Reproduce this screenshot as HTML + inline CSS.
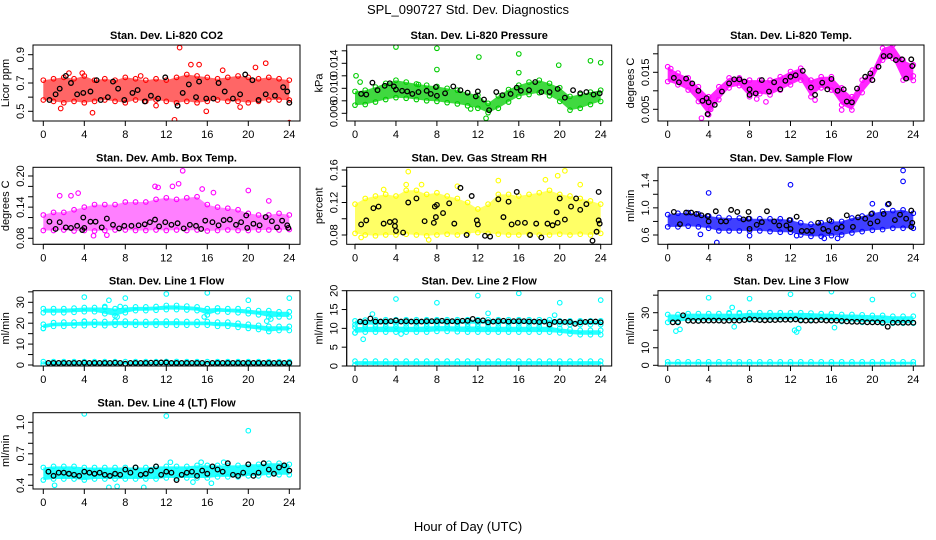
<!DOCTYPE html>
<html><head><meta charset="utf-8"><style>
html,body{margin:0;padding:0;background:#fff;}
svg{display:block;font-family:"Liberation Sans",Arial,sans-serif;}
</style></head><body>
<svg id="chart" width="936" height="540" viewBox="0 0 936 540" xmlns="http://www.w3.org/2000/svg">
<rect width="936" height="540" fill="#fff"/>
<text x="468" y="14" font-size="13" text-anchor="middle">SPL_090727  Std. Dev. Diagnostics</text>
<text x="468" y="531" font-size="13" text-anchor="middle">Hour of Day (UTC)</text>
</svg>
<script>
const hours=[0,1,2,3,4,5,6,7,8,9,10,11,12,13,14,15,16,17,18,19,20,21,22,23,24];
const halfHours=[0.5,1,1.5,2,2.5,3,3.5,4,4.5,5,5.5,6,6.5,7,7.5,8,8.5,9,9.5,10,10.5,11,11.5,12,12.5,13,13.5,14,14.5,15,15.5,16,16.5,17,17.5,18,18.5,19,19.5,20,20.5,21,21.5,22,22.5,23,23.5,24];
const xTicks=[0,4,8,12,16,20,24];

const co2Lo=[0.58,0.57,0.56,0.57,0.56,0.57,0.58,0.57,0.56,0.58,0.57,0.58,0.57,0.56,0.57,0.56,0.57,0.58,0.57,0.57,0.56,0.57,0.58,0.58,0.58];
const co2Hi=[0.72,0.73,0.74,0.73,0.75,0.72,0.73,0.72,0.74,0.73,0.72,0.73,0.72,0.74,0.76,0.75,0.74,0.73,0.74,0.75,0.74,0.73,0.74,0.73,0.72];
const co2OutX=[13.3,12.8,24.0,14.4,15.2,21.7,3.8,1.7,4.8,15.9,20.7,11.0,17.5,9.5,2.5,19.2];
const co2OutY=[0.95,0.44,0.42,0.83,0.83,0.84,0.77,0.52,0.49,0.50,0.81,0.54,0.79,0.75,0.77,0.53];
const co2BlkX=[0.6,1.2,1.6,2.2,2.7,3.3,3.9,4.6,5.2,5.6,6.3,6.8,7.3,7.9,8.7,9.2,9.9,10.5,11.2,11.9,13.1,13.6,14.2,14.9,15.2,15.9,16.6,17.1,17.7,18.5,19.2,19.7,20.4,21.0,21.7,22.6,23.4,23.8,24.0];
const co2BlkY=[0.58,0.62,0.66,0.75,0.70,0.62,0.63,0.64,0.72,0.58,0.60,0.71,0.66,0.58,0.63,0.65,0.57,0.61,0.59,0.74,0.54,0.63,0.69,0.60,0.71,0.59,0.59,0.70,0.64,0.59,0.62,0.76,0.72,0.58,0.62,0.61,0.67,0.64,0.56];

const presLo=[0.0073,0.0074,0.0078,0.0082,0.0085,0.0084,0.0082,0.0080,0.0079,0.0077,0.0075,0.0072,0.0068,0.0061,0.0068,0.0078,0.0087,0.0090,0.0093,0.0088,0.0079,0.0065,0.0068,0.0074,0.0079];
const presHi=[0.0095,0.0097,0.0102,0.0108,0.0113,0.0110,0.0107,0.0105,0.0103,0.0100,0.0097,0.0093,0.0089,0.0076,0.0088,0.0098,0.0105,0.0110,0.0113,0.0108,0.0101,0.0087,0.0090,0.0094,0.0097];
const presOutX=[4.0,8.0,8.0,12.1,16.0,19.9,23.0,24.0,0.1,12.8,11.3,16.0,6.2,0.5];
const presOutY=[0.0166,0.0164,0.0130,0.0150,0.0155,0.0137,0.0144,0.0141,0.0120,0.0052,0.0067,0.0125,0.0106,0.0110];
const presBlkX=[0.6,1.1,1.7,2.2,2.9,3.4,3.8,4.0,4.6,5.1,5.6,6.2,7.0,7.4,7.9,8.0,8.8,9.6,10.3,11.0,11.8,12.0,12.6,13.1,13.8,14.4,15.2,15.8,16.2,17.0,17.6,18.2,19.0,19.8,20.5,21.3,22.0,22.6,23.3,23.9];
const presBlkY=[0.0091,0.0090,0.0109,0.0097,0.0104,0.0108,0.0103,0.0098,0.0096,0.0095,0.0091,0.0094,0.0096,0.0091,0.0102,0.0088,0.0092,0.0103,0.0097,0.0093,0.0087,0.0095,0.0082,0.0065,0.0094,0.0089,0.0091,0.0101,0.0096,0.0097,0.0110,0.0094,0.0094,0.0099,0.0085,0.0097,0.0092,0.0094,0.0090,0.0092];

const tempHi=[0.0165,0.0148,0.0135,0.0111,0.0084,0.0111,0.0135,0.0135,0.0129,0.0129,0.0129,0.0138,0.0152,0.0161,0.0129,0.0138,0.0138,0.0108,0.0084,0.0129,0.0156,0.0215,0.0224,0.0183,0.0170];
const tempLo=[0.0125,0.0116,0.0102,0.0071,0.0035,0.0076,0.0108,0.0114,0.0084,0.0092,0.0089,0.0102,0.0116,0.0129,0.0084,0.0108,0.0102,0.0062,0.0048,0.0095,0.0129,0.0183,0.0188,0.0129,0.0128];
const tempOutX=[3.3,8.7,9.6,4.2,17.0,14.4,24.0,0.3];
const tempOutY=[0.0026,0.0078,0.0070,0.0050,0.0048,0.0075,0.0140,0.0160];
const tempBlkX=[0.6,1.1,1.8,2.4,3.0,3.4,3.8,3.9,4.0,4.6,5.3,6.0,6.5,7.0,7.5,8.0,8.0,8.6,9.2,9.9,10.4,11.0,11.5,12.0,12.5,13.2,14.0,14.4,15.1,15.6,16.0,16.6,17.2,17.5,18.0,18.5,19.3,19.8,20.0,20.6,21.1,21.7,22.3,22.9,23.3,23.8,23.9];
const tempBlkY=[0.0135,0.0123,0.0133,0.0120,0.0100,0.0073,0.0080,0.0037,0.0069,0.0062,0.0098,0.0120,0.0131,0.0131,0.0125,0.0104,0.0089,0.0093,0.0129,0.0098,0.0123,0.0104,0.0127,0.0138,0.0142,0.0154,0.0109,0.0089,0.0122,0.0104,0.0132,0.0100,0.0104,0.0071,0.0069,0.0106,0.0138,0.0147,0.0129,0.0165,0.0194,0.0194,0.0183,0.0185,0.0133,0.0185,0.0167];

const ambLo=[0.095,0.095,0.096,0.094,0.095,0.094,0.095,0.096,0.096,0.095,0.095,0.096,0.095,0.096,0.095,0.096,0.094,0.095,0.096,0.095,0.095,0.096,0.096,0.096,0.097];
const ambHi=[0.125,0.130,0.130,0.135,0.140,0.145,0.145,0.145,0.150,0.150,0.150,0.155,0.158,0.155,0.158,0.160,0.145,0.140,0.138,0.135,0.128,0.125,0.125,0.128,0.125];
const ambOutX=[13.6,10.9,12.6,13.2,15.5,4.9,6.2,1.6,3.4,20.0,22.0,11.2,16.6,2.7];
const ambOutY=[0.210,0.180,0.180,0.185,0.175,0.085,0.086,0.162,0.167,0.172,0.152,0.178,0.168,0.162];
const ambBlkX=[0.6,1.2,1.6,2.2,2.7,3.3,3.8,3.9,4.0,4.6,5.1,5.7,6.2,6.8,7.4,7.9,8.6,9.3,9.9,10.4,10.9,11.3,11.9,12.5,13.1,13.7,14.3,14.9,15.4,15.8,16.5,17.1,17.6,18.2,18.8,19.3,19.8,19.9,20.5,21.1,21.7,22.3,22.8,23.3,23.8,23.9];
const ambBlkY=[0.112,0.098,0.111,0.101,0.100,0.104,0.096,0.120,0.100,0.112,0.112,0.101,0.118,0.106,0.099,0.104,0.104,0.105,0.107,0.111,0.116,0.103,0.111,0.106,0.109,0.099,0.106,0.104,0.098,0.114,0.111,0.105,0.115,0.116,0.106,0.111,0.124,0.100,0.108,0.105,0.121,0.113,0.101,0.114,0.105,0.100];

const rhLo=[0.082,0.080,0.079,0.080,0.080,0.081,0.080,0.079,0.080,0.081,0.080,0.082,0.083,0.082,0.081,0.080,0.080,0.081,0.080,0.080,0.081,0.080,0.081,0.080,0.082];
const rhHi=[0.118,0.125,0.128,0.130,0.128,0.135,0.135,0.130,0.132,0.128,0.125,0.120,0.112,0.118,0.130,0.130,0.128,0.130,0.132,0.135,0.130,0.128,0.125,0.122,0.118];
const rhOutX=[5.2,20.5,19.8,7.2,0.6,14.0,18.6,5.0,6.5,10.0,2.8,22.0];
const rhOutY=[0.158,0.159,0.153,0.074,0.077,0.147,0.148,0.142,0.142,0.140,0.136,0.142];
const rhBlkX=[0.6,1.1,1.8,2.3,2.8,3.4,3.9,3.9,4.0,4.7,5.2,6.0,6.8,7.7,7.8,8.0,7.9,8.6,9.2,9.7,10.3,10.9,11.4,11.9,12.0,12.7,13.2,14.0,14.5,15.0,15.3,15.8,15.9,16.6,17.1,17.7,18.2,18.8,19.3,19.7,19.8,20.0,20.5,21.1,21.6,22.0,22.6,23.2,23.6,23.8,23.9,23.8];
const rhBlkY=[0.093,0.098,0.113,0.115,0.094,0.096,0.097,0.091,0.085,0.083,0.120,0.125,0.097,0.095,0.115,0.117,0.102,0.107,0.119,0.094,0.138,0.080,0.128,0.098,0.093,0.079,0.078,0.124,0.102,0.121,0.093,0.133,0.095,0.095,0.080,0.094,0.077,0.094,0.092,0.108,0.095,0.125,0.099,0.115,0.125,0.111,0.118,0.073,0.084,0.098,0.094,0.133];

const flowLo=[0.72,0.72,0.73,0.72,0.70,0.66,0.66,0.66,0.66,0.66,0.65,0.64,0.64,0.60,0.58,0.58,0.59,0.60,0.63,0.65,0.67,0.68,0.70,0.70,0.70];
const flowHi=[0.90,0.92,0.93,0.91,0.88,0.86,0.85,0.85,0.84,0.84,0.84,0.84,0.82,0.78,0.76,0.78,0.80,0.80,0.85,0.88,0.92,0.95,0.96,0.97,0.92];
const flowOutX=[4.0,12.0,23.0,23.0,4.8,3.2,20.0,21.5,8.0,12.6,15.3,16.6];
const flowOutY=[1.22,1.34,1.55,1.39,0.49,0.61,1.06,1.05,0.59,0.59,0.55,0.55];
const flowBlkX=[0.6,1.2,1.8,2.3,2.8,3.3,3.9,4.0,4.7,5.2,5.7,6.2,6.8,7.4,7.9,7.9,8.0,8.7,9.2,9.7,10.4,10.9,11.6,11.9,12.0,12.6,13.1,13.6,14.1,14.7,15.2,15.7,15.8,16.5,17.0,17.5,18.1,18.6,19.3,19.8,19.9,20.5,21.1,21.6,22.2,22.7,23.3,23.8,23.9,23.8];
const flowBlkY=[0.94,0.76,0.93,0.93,0.91,0.89,0.88,0.80,0.95,0.80,0.80,0.97,0.94,0.83,0.94,0.84,0.69,0.75,0.79,0.95,0.80,0.74,0.74,0.82,0.69,0.87,0.66,0.66,0.66,0.78,0.69,0.66,0.82,0.70,0.72,0.89,0.72,0.86,0.84,0.77,0.91,0.80,0.91,1.06,0.82,0.90,0.84,0.96,0.78,0.72];

const l1ALo=[25.0,25.0,25.0,25.2,25.5,25.5,24.5,23.5,25.0,26.0,26.0,26.2,26.5,26.5,26.3,26.0,24.0,25.5,25.3,25.0,24.5,24.0,23.0,23.0,23.0];
const l1AHi=[27.0,27.0,27.0,27.2,27.5,27.5,27.5,27.0,27.5,27.8,27.8,28.0,28.5,28.5,28.2,27.8,27.0,27.3,27.0,27.0,26.5,26.0,26.0,25.5,25.5];
const l1BLo=[17.5,18.5,18.5,18.8,18.8,19.0,18.8,19.0,19.0,19.0,19.0,19.0,19.0,19.0,19.0,19.0,19.0,18.5,18.5,18.0,17.5,17.0,16.0,16.5,16.5];
const l1BHi=[19.5,20.3,20.5,20.5,20.8,20.8,20.8,21.0,21.0,20.8,20.8,21.0,21.0,21.0,20.8,20.8,20.8,20.5,20.5,20.0,19.5,19.0,18.5,18.5,18.5];
const l1CLo=[0.4,0.4,0.4,0.4,0.4,0.4,0.4,0.4,0.4,0.4,0.4,0.4,0.4,0.4,0.4,0.4,0.4,0.4,0.4,0.4,0.4,0.4,0.4,0.4,0.4];
const l1CHi=[1.6,1.6,1.6,1.6,1.6,1.6,1.6,1.6,1.6,1.6,1.6,1.6,1.7,1.7,1.6,1.6,1.6,1.6,1.6,1.6,1.6,1.6,1.6,1.6,1.6];
const l1OutX=[4,6.4,8,12,16,20,24,0,7.2,15.7,21.8,22.2,4,6.0,7.5];
const l1OutY=[32.5,31,32,34,34.5,31,32,17.5,23,23,21,22,21,28,28];
const l1BlkY=[1.0,1.0,1.0,1.0,1.0,1.0,1.0,1.1,1.0,1.0,1.0,1.0,1.0,1.1,1.0,0.6,1.0,1.0,1.0,1.0,1.1,1.1,1.2,1.2,1.0,1.0,1.0,1.0,1.0,1.0,1.0,0.6,1.0,1.0,1.0,1.0,1.0,1.0,1.0,1.0,1.0,1.0,1.0,1.0,1.0,1.0,1.0,1.0];

const l2ALo=[8.8,9.0,9.0,9.0,9.0,9.0,9.0,9.0,9.2,9.2,9.1,9.0,9.0,9.0,9.0,9.0,9.0,9.0,9.0,9.0,8.8,8.5,8.3,8.3,8.3];
const l2AHi=[10.3,10.4,10.4,10.5,10.5,10.4,10.4,10.5,10.6,10.6,10.5,10.5,10.5,10.4,10.4,10.4,10.4,10.4,10.4,10.4,10.0,9.7,9.5,9.5,9.5];
const l2BLo=[11.0,11.0,11.0,11.2,11.2,11.2,11.2,11.2,11.2,11.2,11.2,11.2,11.2,11.2,11.2,11.2,11.2,11.2,11.2,11.2,11.0,11.0,11.0,11.0,11.0];
const l2BHi=[12.0,12.2,12.3,12.3,12.3,12.3,12.3,12.3,12.3,12.3,12.3,12.3,12.3,12.3,12.3,12.3,12.3,12.3,12.3,12.3,12.0,12.0,12.0,12.0,12.0];
const l2CLo=[0.3,0.3,0.3,0.3,0.3,0.3,0.3,0.3,0.3,0.3,0.3,0.3,0.3,0.3,0.3,0.3,0.3,0.3,0.3,0.3,0.3,0.3,0.3,0.3,0.3];
const l2CHi=[1.3,1.3,1.3,1.3,1.3,1.3,1.3,1.3,1.3,1.3,1.3,1.3,1.3,1.3,1.3,1.3,1.3,1.3,1.3,1.3,1.3,1.3,1.3,1.3,1.3];
const l2OutX=[4,8,12,16,20,24,0.8,1.7,13,19.5,4.5,0];
const l2OutY=[17.8,16.8,18.7,19.3,16.8,17.5,7.1,13.8,14,13.5,8.5,8.8];
const l2BlkY=[11.8,11.6,12.6,11.8,11.8,11.8,11.9,12.1,11.8,11.9,11.8,11.8,11.8,11.9,11.9,11.9,12.0,11.8,11.9,11.8,12.0,12.0,12.5,12.0,12.1,11.6,11.8,11.9,12.0,11.8,11.9,11.9,11.9,11.8,11.8,11.7,11.8,11.0,11.7,11.8,11.7,11.7,11.2,11.6,11.7,11.8,11.8,11.6];

const l3ALo=[24.5,25.0,25.5,25.5,25.5,25.5,25.5,25.5,26.0,26.0,26.0,26.0,26.0,26.0,26.0,25.8,25.5,25.0,25.0,24.5,24.5,24.0,24.0,24.0,24.0];
const l3AHi=[29.0,29.0,29.5,29.5,29.5,29.5,29.5,29.5,30.0,30.0,30.0,30.0,30.0,30.0,29.8,29.5,29.5,29.0,29.0,28.8,28.5,28.5,28.0,28.0,28.0];
const l3CLo=[0.5,0.5,0.5,0.5,0.5,0.5,0.5,0.5,0.5,0.5,0.5,0.5,0.5,0.5,0.5,0.5,0.5,0.5,0.5,0.5,0.5,0.5,0.5,0.5,0.5];
const l3CHi=[2.0,2.0,2.0,2.0,2.0,2.0,2.0,2.0,2.0,2.0,2.0,2.0,2.0,2.0,2.0,2.0,2.0,2.0,2.0,2.0,2.0,2.0,2.0,2.0,2.0];
const l3OutX=[4,8,12,16,20,24,6.3,6.0,7.0,0.8,1.2,12.4,12.6,12.8,16.3,6.5];
const l3OutY=[38.5,38,40.5,42,37.5,40,33,30,30,19.5,20.5,20,19,21,21.5,22];
const l3BlkY=[24.5,24.5,28.5,25.5,25.3,25.3,25.5,25.5,25.5,25.5,25.3,25.5,25.5,25.5,25.8,26.3,26.0,25.8,25.7,25.8,25.8,26.0,26.0,26.0,26.2,25.6,25.5,25.5,25.5,25.8,25.5,25.5,25.5,25.3,25.0,24.8,24.8,24.8,24.5,24.5,24.5,24.3,22.0,24.3,24.3,24.3,24.3,24.3];

const l4Lo=[0.45,0.46,0.46,0.46,0.45,0.46,0.46,0.46,0.46,0.46,0.46,0.46,0.47,0.47,0.47,0.47,0.47,0.48,0.48,0.48,0.49,0.49,0.50,0.50,0.50];
const l4Hi=[0.57,0.58,0.58,0.58,0.57,0.57,0.57,0.57,0.57,0.57,0.57,0.58,0.58,0.58,0.58,0.59,0.59,0.59,0.59,0.59,0.60,0.60,0.61,0.61,0.60];
const l4OutX=[4,12,20,6.4,7.2,9.8,1.1,12.4,15.4,17.6,16.4,14.6];
const l4OutY=[1.08,1.06,0.92,0.38,0.39,0.38,0.40,0.62,0.62,0.62,0.42,0.43];
const l4BlkY=[0.53,0.49,0.52,0.52,0.51,0.50,0.49,0.53,0.52,0.51,0.52,0.50,0.49,0.51,0.50,0.55,0.52,0.57,0.50,0.51,0.54,0.58,0.50,0.53,0.52,0.45,0.50,0.52,0.53,0.49,0.54,0.51,0.58,0.55,0.53,0.61,0.50,0.49,0.52,0.60,0.49,0.52,0.61,0.55,0.51,0.57,0.59,0.54];

const NS='http://www.w3.org/2000/svg';
const svg=document.getElementById('chart');
function mk(tag,attrs,parent){const e=document.createElementNS(NS,tag);for(const k in attrs)e.setAttribute(k,attrs[k]);(parent||svg).appendChild(e);return e;}

const cols=[{L:33,R:300,x0:43.3,x24:289.3},{L:346.7,R:611.7,x0:355,x24:600.7},{L:658,R:924,x0:667.7,x24:913.3}];
const rows=[{T:45,B:121},{T:167.3,B:244.3},{T:290.7,B:366},{T:412.7,B:489}];

const panels=[
 {id:'co2',title:'Stan. Dev. Li-820 CO2',ylab:'Licor ppm',c:0,r:0,color:'#ff0000',v1:0.5,p1:111.3,v2:0.9,p2:54.7,ticks:[0.5,0.6,0.7,0.8,0.9],labels:[0.5,0.7,0.9],dec:1,bands:[[co2Lo,co2Hi,0.6]],ox:co2OutX,oy:co2OutY,bx:co2BlkX,by:co2BlkY},
 {id:'pressure',title:'Stan. Dev. Li-820 Pressure',ylab:'kPa',c:1,r:0,color:'#00cc00',v1:0.006,p1:113.3,v2:0.014,p2:63.3,ticks:[0.006,0.008,0.010,0.012,0.014,0.016],labels:[0.006,0.010,0.014],dec:3,bands:[[presLo,presHi,0.75]],ox:presOutX,oy:presOutY,bx:presBlkX,by:presBlkY},
 {id:'temp',title:'Stan. Dev. Li-820 Temp.',ylab:'degrees C',c:2,r:0,color:'#ff00ff',v1:0.005,p1:109.3,v2:0.015,p2:72.3,ticks:[0.005,0.010,0.015,0.020],labels:[0.005,0.015],dec:3,bands:[[tempLo,tempHi,0.85]],ox:tempOutX,oy:tempOutY,bx:tempBlkX,by:tempBlkY},
 {id:'ambbox',title:'Stan. Dev. Amb. Box Temp.',ylab:'degrees C',c:0,r:1,color:'#ff00ff',v1:0.08,p1:238.3,v2:0.20,p2:176,ticks:[0.08,0.10,0.12,0.14,0.16,0.18,0.20],labels:[0.08,0.14,0.20],dec:2,bands:[[ambLo,ambHi,0.5]],ox:ambOutX,oy:ambOutY,bx:ambBlkX,by:ambBlkY},
 {id:'rh',title:'Stan. Dev. Gas Stream RH',ylab:'percent',c:1,r:1,color:'#ffff00',v1:0.08,p1:235,v2:0.16,p2:170,ticks:[0.08,0.10,0.12,0.14,0.16],labels:[0.08,0.12,0.16],dec:2,bands:[[rhLo,rhHi,0.6]],ox:rhOutX,oy:rhOutY,bx:rhBlkX,by:rhBlkY},
 {id:'sampleflow',title:'Stan. Dev. Sample Flow',ylab:'ml/min',c:2,r:1,color:'#0000ff',v1:0.6,p1:235,v2:1.4,p2:180.7,ticks:[0.6,0.8,1.0,1.2,1.4],labels:[0.6,1.0,1.4],dec:1,bands:[[flowLo,flowHi,0.75]],ox:flowOutX,oy:flowOutY,bx:flowBlkX,by:flowBlkY},
 {id:'line1',title:'Stan. Dev. Line 1 Flow',ylab:'ml/min',c:0,r:2,color:'#00ffff',v1:0,p1:365,v2:30,p2:302.3,ticks:[0,5,10,15,20,25,30,35],labels:[0,10,20,30],dec:0,bands:[[l1ALo,l1AHi,0.85],[l1BLo,l1BHi,0.85],[l1CLo,l1CHi,0.85]],ox:l1OutX,oy:l1OutY,bx:halfHours,by:l1BlkY},
 {id:'line2',title:'Stan. Dev. Line 2 Flow',ylab:'ml/min',c:1,r:2,color:'#00ffff',v1:0,p1:366,v2:20,p2:290.7,ticks:[0,5,10,15,20],labels:[0,5,10,15,20],dec:0,bands:[[l2ALo,l2AHi,0.85],[l2BLo,l2BHi,0.85],[l2CLo,l2CHi,0.85]],ox:l2OutX,oy:l2OutY,bx:halfHours,by:l2BlkY},
 {id:'line3',title:'Stan. Dev. Line 3 Flow',ylab:'ml/min',c:2,r:2,color:'#00ffff',v1:0,p1:365.3,v2:30,p2:312.7,ticks:[0,10,20,30,40],labels:[0,10,30],dec:0,bands:[[l3ALo,l3AHi,0.85],[l3CLo,l3CHi,0.85]],ox:l3OutX,oy:l3OutY,bx:halfHours,by:l3BlkY},
 {id:'line4',title:'Stan. Dev. Line 4 (LT) Flow',ylab:'ml/min',c:0,r:3,color:'#00ffff',v1:0.4,p1:485.3,v2:1.0,p2:422.3,ticks:[0.4,0.5,0.6,0.7,0.8,0.9,1.0],labels:[0.4,0.7,1.0],dec:1,bands:[[l4Lo,l4Hi,0.85]],ox:l4OutX,oy:l4OutY,bx:halfHours,by:l4BlkY}
];

panels.forEach(p=>{
 const C=cols[p.c],Rw=rows[p.r];
 const xs=h=>C.x0+(h/24)*(C.x24-C.x0);
 const ys=v=>p.p1+(v-p.v1)*(p.p2-p.p1)/(p.v2-p.v1);
 const g=mk('g',{});
 
 
 const clipId='clip-'+p.id;
 const cp=mk('clipPath',{id:clipId},g);
 mk('rect',{x:C.L,y:Rw.T,width:C.R-C.L,height:Rw.B-Rw.T},cp);
 const plot=mk('g',{'clip-path':'url(#'+clipId+')'},g);
 
 
 p.bands.forEach((b,bi)=>{
  const lo=b[0],hi=b[1];
  let d='';
  hours.forEach((h,i)=>{d+=(i?'L':'M')+xs(h).toFixed(1)+' '+ys(hi[i]).toFixed(1);});
  for(let i=hours.length-1;i>=0;i--)d+='L'+xs(hours[i]).toFixed(1)+' '+ys(lo[i]).toFixed(1);
  const band=mk('path',{d:d+'Z',fill:p.color,'fill-opacity':b[2],stroke:'none'},plot);
  
  
  hours.forEach((h,i)=>{
   [lo[i],hi[i]].forEach(v=>{
    const c=mk('circle',{cx:xs(h),cy:ys(v),r:2.3,fill:'none',stroke:p.color,'stroke-width':1.1},plot);
    
    
   });
  });
 });
 p.ox.forEach((h,i)=>{
  const c=mk('circle',{cx:xs(h),cy:ys(p.oy[i]),r:2.3,fill:'none',stroke:p.color,'stroke-width':1.1},plot);
  
  
 });
 p.bx.forEach((h,i)=>{
  const c=mk('circle',{cx:xs(h),cy:ys(p.by[i]),r:2.3,fill:'none',stroke:'#000','stroke-width':1.3},plot);
  
  
 });
 const box=mk('rect',{x:C.L,y:Rw.T,width:C.R-C.L,height:Rw.B-Rw.T,fill:'none',stroke:'#000','stroke-width':1},g);
 
 
 const xa=mk('g',{},g);
 
 
 mk('line',{x1:xs(xTicks[0]),x2:xs(xTicks[xTicks.length-1]),y1:Rw.B,y2:Rw.B,stroke:'#000'},xa);
 xTicks.forEach(t=>{
  mk('line',{x1:xs(t),x2:xs(t),y1:Rw.B,y2:Rw.B+5,stroke:'#000'},xa);
  const tx=mk('text',{x:xs(t),y:Rw.B+17,'font-size':11,'text-anchor':'middle'},xa);
  tx.textContent=t;
  
  
 });
 const ya=mk('g',{},g);
 
 
 const tt=p.ticks.filter(t=>ys(t)>=Rw.T-0.5&&ys(t)<=Rw.B+0.5);
 mk('line',{x1:C.L,x2:C.L,y1:ys(tt[0]),y2:ys(tt[tt.length-1]),stroke:'#000'},ya);
 tt.forEach(t=>{mk('line',{x1:C.L-5,x2:C.L,y1:ys(t),y2:ys(t),stroke:'#000'},ya);});
 p.labels.forEach(t=>{
  const x=C.L-9,y=ys(t);
  const tx=mk('text',{x:x,y:y,'font-size':11,'text-anchor':'middle',transform:'rotate(-90 '+x+' '+y+')'},ya);
  tx.textContent=t.toFixed(p.dec);
  
  
 });
 const yl=C.L-24,ym=(Rw.T+Rw.B)/2;
 const ylab=mk('text',{x:yl,y:ym,'font-size':11,'text-anchor':'middle',transform:'rotate(-90 '+yl+' '+ym+')'},g);
 ylab.textContent=p.ylab;
 
 
 const ti=mk('text',{x:(C.L+C.R)/2,y:Rw.T-6,'font-size':11,'font-weight':'bold','text-anchor':'middle'},g);
 ti.textContent=p.title;
 
 
});
</script>
</body></html>
